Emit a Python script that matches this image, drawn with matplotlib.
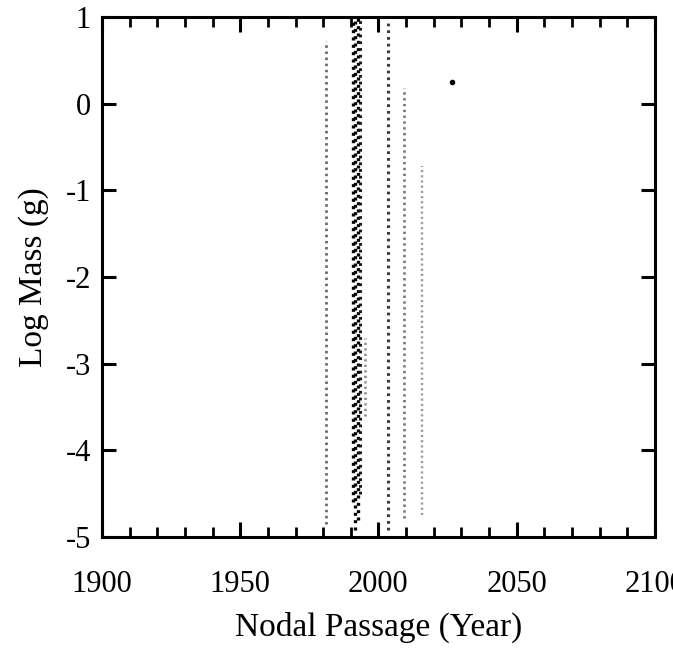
import matplotlib
matplotlib.use("Agg")
import matplotlib.pyplot as plt
from matplotlib.ticker import MultipleLocator

# Dust-trail strands: nodal passage year and the log-mass range each one spans
strand_year = [1981.0, 1990.9, 1991.7, 1992.5, 1993.3, 1995.0,
               2003.3, 2009.1, 2015.8]
strand_top = [0.72, 1.3, 1.3, 1.3, 1.3, -2.7, 0.95, 0.18, -0.72]
strand_bottom = [-4.85, -4.6, -4.92, -4.8, -4.5, -3.6, -4.92, -4.78, -4.75]
strand_shade = ["#6a6a6a", "#000000", "#000000", "#000000", "#1a1a1a",
                "#8a8a8a", "#3a3a3a", "#767676", "#9a9a9a"]
strand_width = [2.0, 2.4, 2.4, 2.4, 2.2, 1.8, 2.2, 1.9, 1.7]

# Isolated particle
lone_year = [2026.6]
lone_mass = [0.25]

x_ticks = [1900, 1950, 2000, 2050, 2100]
x_labels = ["1900", "1950", "2000", "2050", "2100"]
y_ticks = [-5, -4, -3, -2, -1, 0, 1]
y_labels = ["-5", "-4", "-3", "-2", "-1", "0", "1"]

plt.rcParams["font.family"] = ["Liberation Serif", "DejaVu Serif"]

fig = plt.figure(figsize=(6.73, 6.54), dpi=100)
ax = fig.add_axes([0.1516, 0.179, 0.8214, 0.795])

for yr, top, bot, shade, lw in zip(strand_year, strand_top, strand_bottom,
                                   strand_shade, strand_width):
    ax.vlines(yr, bot, top, colors=shade, linewidth=lw,
              linestyles=(0, (0.9, 1.3)))

ax.plot(lone_year, lone_mass, "o", color="black", markersize=3)

ax.set_xlim(1900, 2100)
ax.set_ylim(-5, 1)
ax.set_xticks(x_ticks)
ax.set_xticklabels(x_labels)
ax.set_yticks(y_ticks)
ax.set_yticklabels(y_labels)
ax.xaxis.set_minor_locator(MultipleLocator(10))

for sp in ax.spines.values():
    sp.set_linewidth(2.2)

ax.tick_params(axis="both", which="major", direction="in", width=2.2,
               labelsize=22, top=True, right=True)
ax.tick_params(axis="x", which="major", length=11, pad=24)
ax.tick_params(axis="y", which="major", length=10, pad=8)
ax.tick_params(axis="x", which="minor", direction="in", width=2.0,
               length=7, top=True)

ax.set_xlabel("Nodal Passage (Year)", fontsize=24, labelpad=9)
ax.set_ylabel("Log Mass (g)", fontsize=24, labelpad=12)

fig.savefig("out.png", dpi=100)
